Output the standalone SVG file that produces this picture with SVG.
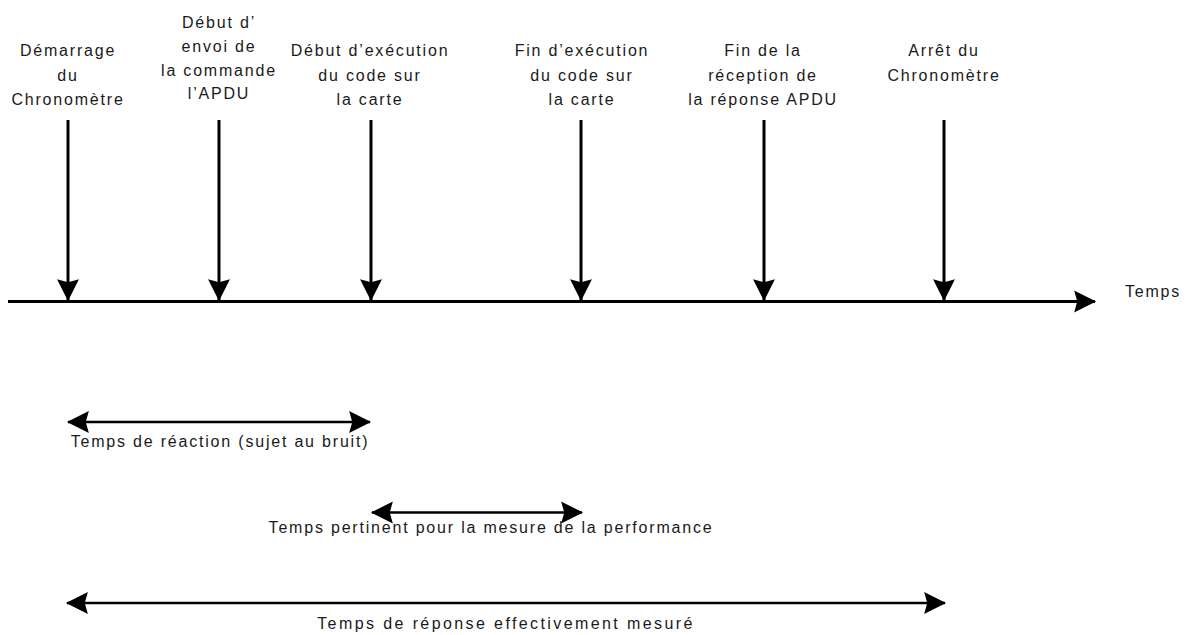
<svg xmlns="http://www.w3.org/2000/svg" width="1187" height="635" viewBox="0 0 1187 635">
<defs>
<marker id="ah" markerUnits="userSpaceOnUse" markerWidth="24" markerHeight="24" viewBox="-1 -11 23 22" refX="20" refY="0" orient="auto-start-reverse">
<path d="M0,-10.5 L21,0 L0,10.5 L3,0 Z" fill="#000"/>
</marker>
</defs>
<style>
text{font-family:"Liberation Sans",Arial,sans-serif;font-size:16px;letter-spacing:1.8px;fill:#1a1a1a;text-anchor:middle}
.wide{letter-spacing:2.4px}
.ln{stroke:#000;stroke-width:3;fill:none}
.dl{stroke:#000;stroke-width:2.5;fill:none}
</style>
<rect width="1187" height="635" fill="#fff"/>
<g id="connectors">
<line id="axis" class="ln" x1="8" y1="301.5" x2="1095" y2="301.5" marker-end="url(#ah)"/>
<line class="ln" x1="68" y1="120" x2="68" y2="300" marker-end="url(#ah)"/>
<line class="ln" x1="219" y1="120" x2="219" y2="300" marker-end="url(#ah)"/>
<line class="ln" x1="371" y1="120" x2="371" y2="300" marker-end="url(#ah)"/>
<line class="ln" x1="581" y1="120" x2="581" y2="300" marker-end="url(#ah)"/>
<line class="ln" x1="764" y1="120" x2="764" y2="300" marker-end="url(#ah)"/>
<line class="ln" x1="944" y1="120" x2="944" y2="300" marker-end="url(#ah)"/>
<line class="dl" x1="68" y1="422" x2="370" y2="422" marker-start="url(#ah)" marker-end="url(#ah)"/>
<line class="dl" x1="372" y1="512.5" x2="582" y2="512.5" marker-start="url(#ah)" marker-end="url(#ah)"/>
<line class="dl" x1="67" y1="603" x2="945" y2="603" marker-start="url(#ah)" marker-end="url(#ah)"/>
</g>
<g id="n1"><text x="68" y="56">Démarrage</text><text x="68" y="80.5">du</text><text x="68" y="105">Chronomètre</text></g>
<g id="n2"><text x="219" y="28">Début d’</text><text x="219" y="52">envoi de</text><text x="219" y="76">la commande</text><text x="219" y="99">l’APDU</text></g>
<g id="n3"><text x="370" y="56">Début d’exécution</text><text x="370" y="80.5">du code sur</text><text x="370" y="105">la carte</text></g>
<g id="n4"><text x="582" y="56">Fin d’exécution</text><text x="582" y="80.5">du code sur</text><text x="582" y="105">la carte</text></g>
<g id="n5"><text x="763" y="56">Fin de la</text><text x="763" y="80.5">réception de</text><text x="763" y="105">la réponse APDU</text></g>
<g id="n6"><text x="944" y="56">Arrêt du</text><text x="944" y="80.5">Chronomètre</text></g>
<g id="axis-label"><text x="1153" y="297">Temps</text></g>
<g id="l1"><text x="220" y="447">Temps de réaction (sujet au bruit)</text></g>
<g id="l2"><text x="491" y="533">Temps pertinent pour la mesure de la performance</text></g>
<g id="l3"><text class="wide" x="506" y="629">Temps de réponse effectivement mesuré</text></g>
</svg>
